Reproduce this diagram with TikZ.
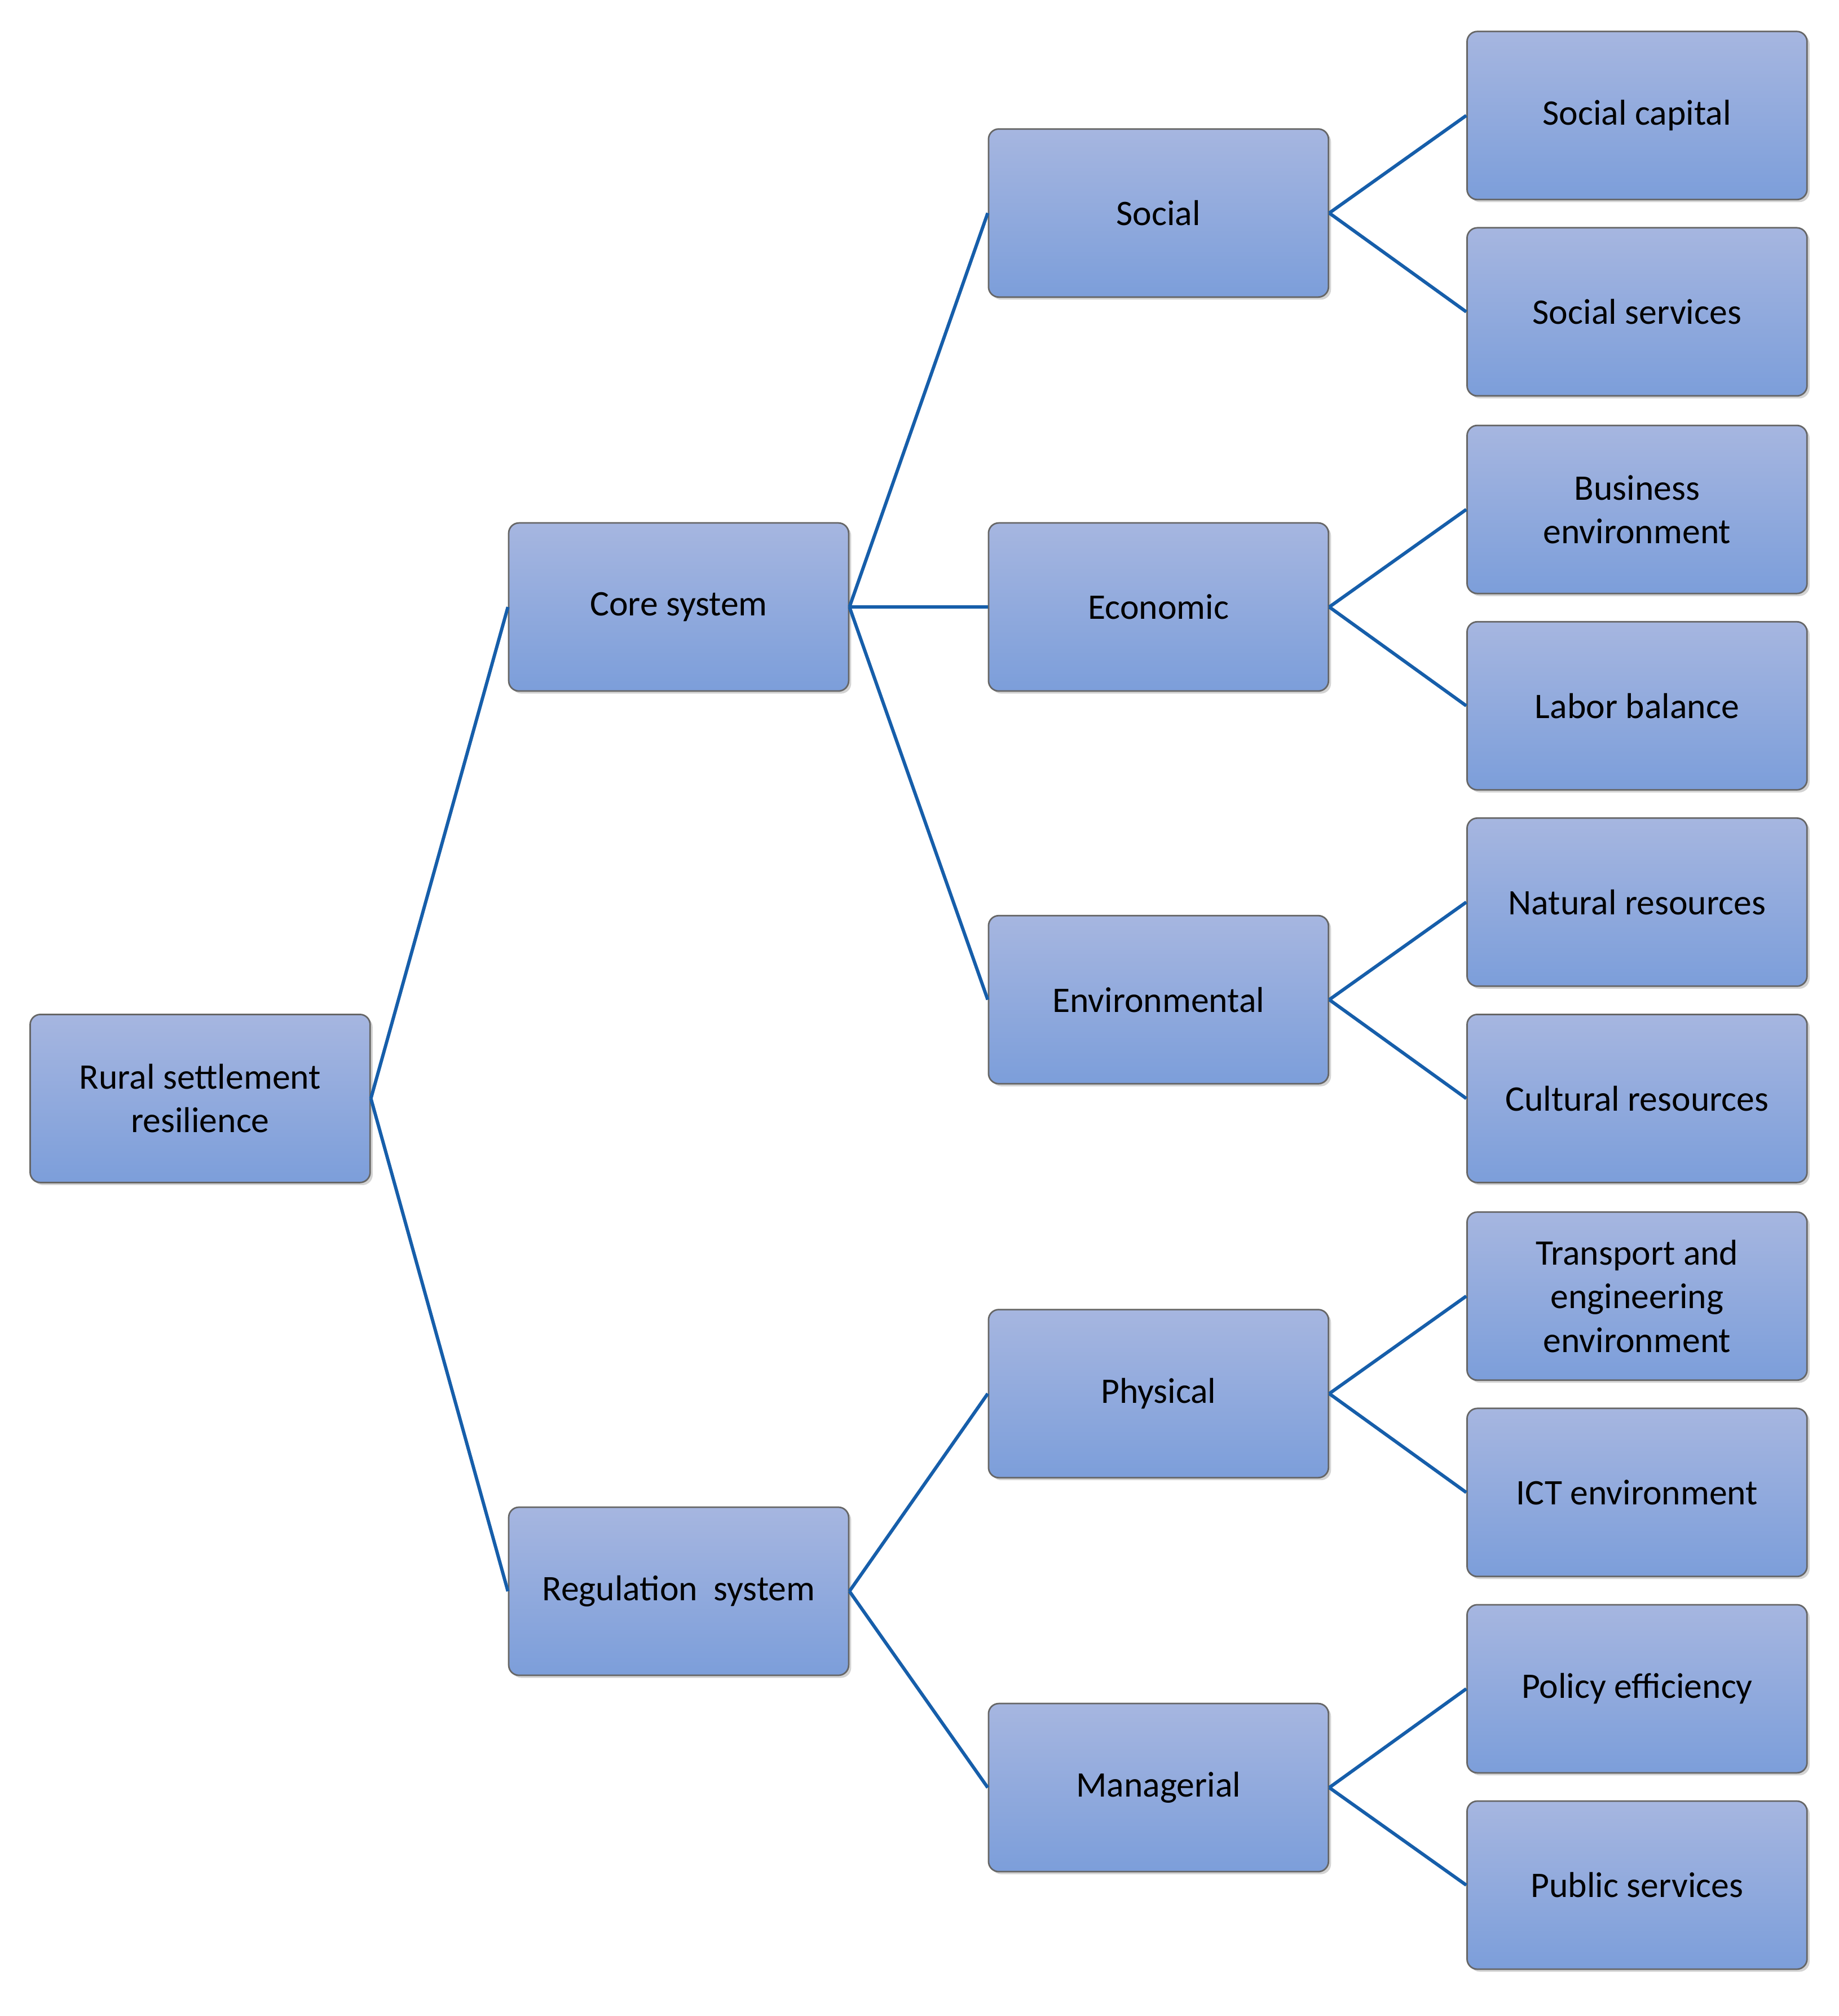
\documentclass[tikz,border=0pt]{standalone}
\usepackage{fontspec}
\setmainfont{Carlito}
\usetikzlibrary{shadows}
\begin{document}
\begin{tikzpicture}[x=0.5pt,y=-0.5pt,
 box/.style={draw=black!60,line width=0.6pt,rounded corners=4pt,
   top color={rgb,255:red,166;green,182;blue,224},bottom color={rgb,255:red,124;green,158;blue,218},
   minimum width=132.5pt,minimum height=65.5pt,inner sep=1pt,align=center,
   font=\fontsize{14pt}{17pt}\selectfont,
   drop shadow={shadow xshift=1pt,shadow yshift=-1pt,opacity=0.35}},
 link/.style={draw={rgb,255:red,22;green,94;blue,170},line width=1.3pt}]
\useasboundingbox (0,0) rectangle (1433,1571);
\node[box] (root) at (156,856) {Rural settlement\\resilience};
\node[box] (core) at (529,473) {Core system};
\node[box] (reg) at (529,1240) {Regulation\ \ system};
\node[box] (soc) at (903,166) {Social};
\node[box] (eco) at (903,473) {Economic};
\node[box] (env) at (903,779) {Environmental};
\node[box] (phy) at (903,1086) {Physical};
\node[box] (man) at (903,1393) {Managerial};
\node[box] (a1) at (1276,90) {Social capital};
\node[box] (a2) at (1276,243) {Social services};
\node[box] (b1) at (1276,397) {Business\\environment};
\node[box] (b2) at (1276,550) {Labor balance};
\node[box] (c1) at (1276,703) {Natural resources};
\node[box] (c2) at (1276,856) {Cultural resources};
\node[box] (d1) at (1276,1010) {Transport and\\engineering\\environment};
\node[box] (d2) at (1276,1163) {ICT environment};
\node[box] (e1) at (1276,1316) {Policy efficiency};
\node[box] (e2) at (1276,1469) {Public services};
\foreach \p/\c in {root/core,root/reg,core/soc,core/eco,core/env,reg/phy,reg/man,soc/a1,soc/a2,eco/b1,eco/b2,env/c1,env/c2,phy/d1,phy/d2,man/e1,man/e2}
  \draw[link] (\p.east) -- (\c.west);
\end{tikzpicture}
\end{document}
